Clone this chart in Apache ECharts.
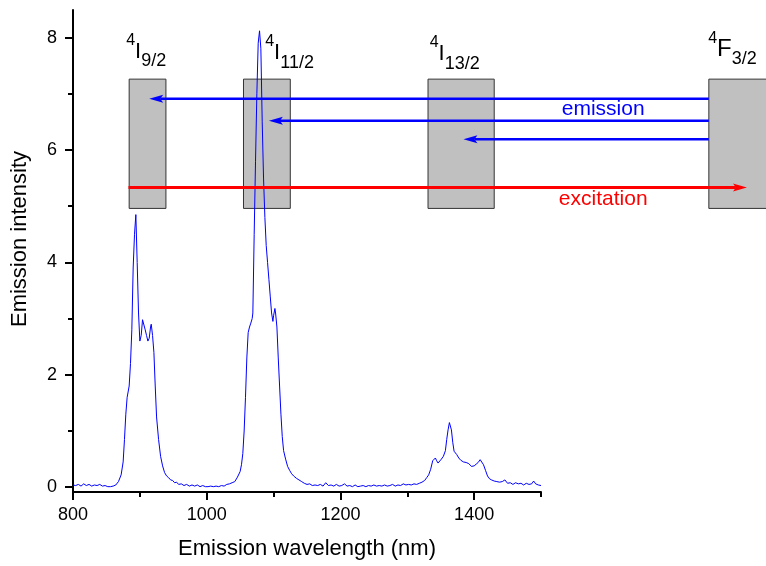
<!DOCTYPE html>
<html><head><meta charset="utf-8">
<script src="https://cdn.jsdelivr.net/npm/echarts@6/dist/echarts.min.js"></script>
<style>html,body{margin:0;padding:0;background:#fff}#c{width:766px;height:566px}</style>
</head><body><div id="c"></div>
<script>
// ---- data ----
const wavelength = [800,804,808,812,816,820,824,828,832,836,840,844,848,852,856,860,864,868,872,875,877,879,881,884,886,888,890,892,894,896,898,900,902,904,906,908,910,912,914,916,917,919,921,923,925,928,931,934,937,940,943,946,949,952,955,958,962,966,970,974,978,982,986,990,994,998,1002,1006,1010,1014,1018,1022,1026,1030,1034,1038,1042,1046,1050,1052,1054,1056,1058,1060,1062,1064,1066,1068,1069,1071,1073,1075,1077,1079,1081,1083,1085,1087,1089,1091,1093,1095,1097,1099,1100,1102,1103,1105,1107,1109,1111,1113,1115,1118,1121,1124,1127,1130,1134,1138,1142,1146,1150,1154,1158,1162,1166,1170,1174,1178,1182,1186,1190,1194,1198,1202,1206,1210,1214,1218,1222,1226,1230,1234,1238,1242,1246,1250,1254,1258,1262,1266,1270,1274,1278,1282,1286,1290,1294,1298,1302,1306,1310,1314,1318,1322,1326,1329,1332,1335,1338,1340,1342,1344,1346,1348,1351,1354,1357,1359,1361,1363,1364,1366,1368,1370,1372,1374,1377,1380,1384,1388,1392,1396,1400,1403,1406,1409,1411,1414,1417,1420,1423,1426,1430,1434,1438,1442,1446,1450,1454,1458,1462,1466,1470,1474,1478,1482,1486,1489,1492,1496,1500];
const intensity = [0.04,0.03,0.05,0.02,0.06,0.03,0.05,0.02,0.04,0.03,0.05,0.02,0.03,0.01,0.01,0.02,0.04,0.1,0.22,0.45,0.85,1.3,1.6,1.8,2.2,2.8,3.9,4.5,4.85,4.0,3.1,2.6,2.7,2.98,2.95,2.8,2.7,2.6,2.65,2.85,2.9,2.7,2.4,1.8,1.25,0.85,0.55,0.38,0.26,0.2,0.17,0.13,0.12,0.08,0.09,0.05,0.06,0.03,0.05,0.02,0.04,0.02,0.04,0.01,0.03,0.01,0.01,0.02,0.01,0.02,0.01,0.03,0.02,0.05,0.06,0.08,0.1,0.18,0.28,0.4,0.6,1.0,1.6,2.3,2.75,2.85,2.92,3.0,3.1,4.5,5.8,7.0,7.9,8.12,7.8,6.5,5.5,4.8,4.3,4.0,3.7,3.4,3.1,2.95,3.05,3.18,3.1,2.85,2.3,1.8,1.3,0.9,0.65,0.5,0.37,0.3,0.24,0.2,0.16,0.13,0.1,0.07,0.05,0.06,0.03,0.04,0.03,0.05,0.02,0.08,0.03,0.04,0.02,0.05,0.02,0.03,0.06,0.02,0.03,0.01,0.04,0.01,0.02,0.03,0.01,0.03,0.02,0.04,0.02,0.03,0.02,0.04,0.02,0.03,0.05,0.02,0.04,0.03,0.06,0.04,0.05,0.04,0.06,0.05,0.07,0.09,0.12,0.17,0.22,0.32,0.47,0.5,0.52,0.47,0.43,0.46,0.5,0.55,0.65,0.85,1.02,1.15,1.17,1.02,0.8,0.64,0.65,0.58,0.52,0.48,0.45,0.44,0.42,0.37,0.38,0.41,0.44,0.49,0.47,0.4,0.3,0.2,0.15,0.13,0.11,0.1,0.09,0.1,0.13,0.07,0.08,0.05,0.08,0.06,0.07,0.04,0.07,0.05,0.06,0.11,0.06,0.04,0.03];

const xMajorTicks = [800, 1000, 1200, 1400];
const xMinorTicks = [900, 1100, 1300, 1500];
const yMajorTicks = [0, 2, 4, 6, 8];
const yMinorTicks = [1, 3, 5, 7];

// energy level diagram (in axis units: nm / intensity)
const levelSup = ['4', '4', '4', '4'];
const levelMain = ['I', 'I', 'I', 'F'];
const levelSub = ['9/2', '11/2', '13/2', '3/2'];
const levelBoxStart = [884, 1055, 1331, 1751];
const levelBoxEnd = [939, 1125, 1430, 1860];
const levelBoxBottom = [4.96, 4.96, 4.96, 4.96];
const levelBoxTop = [7.26, 7.26, 7.26, 7.26];
const levelLabelX = [879.5, 1087.5, 1333.5, 1750];
const levelLabelY = [8.09, 8.07, 8.05, 8.13];

const emissionFrom = [1751, 1751, 1751];
const emissionTo = [914, 1093, 1384];
const emissionY = [6.91, 6.52, 6.19];
const excitationFrom = [883];
const excitationTo = [1808];
const excitationY = [5.33];

const noteText = ['emission', 'excitation'];
const noteX = [1593, 1593];
const noteY = [6.73, 5.13];

// ---- chart ----
const FONT = '"Liberation Sans", Arial, sans-serif';
const BLUE = '#0000ff', RED = '#ff0000';
const YMIN = -0.085, YMAX = 8.49;

const spectrum = wavelength.map((w, i) => [w, intensity[i]]);
const boxData = levelBoxStart.map((s, i) => [s, levelBoxEnd[i], levelBoxBottom[i], levelBoxTop[i]]);
const labelData = levelLabelX.map((x, i) => [x, levelLabelY[i], i]);
const arrowData = emissionFrom.map((f, i) => [f, emissionTo[i], emissionY[i], 0])
  .concat(excitationFrom.map((f, i) => [f, excitationTo[i], excitationY[i], 1]));
const noteData = noteX.map((x, i) => [x, noteY[i], i]);
const arrowColors = [BLUE, RED];
const arrowWidths = [2.5, 3];
const noteColors = [BLUE, RED];

const chart = echarts.init(document.getElementById('c'), null, {renderer: 'canvas'});

function renderBox(params, api) {
  const p0 = api.coord([api.value(0), api.value(3)]);
  const p1 = api.coord([api.value(1), api.value(2)]);
  return {type: 'rect', shape: {x: p0[0], y: p0[1], width: p1[0] - p0[0], height: p1[1] - p0[1]},
    style: {fill: '#c0c0c0', stroke: '#333333', lineWidth: 1}};
}
function renderArrow(params, api) {
  const a = api.coord([api.value(0), api.value(2)]);
  const b = api.coord([api.value(1), api.value(2)]);
  const k = api.value(3);
  const c = arrowColors[k];
  const dir = Math.sign(b[0] - a[0]);
  const L = 14, H = 4;
  const bx = b[0] - dir * L;
  return {type: 'group', children: [
    {type: 'line', shape: {x1: a[0], y1: a[1], x2: bx + dir * 3, y2: b[1]}, style: {stroke: c, lineWidth: arrowWidths[k]}},
    {type: 'polygon', shape: {points: [[b[0], b[1]], [bx, b[1] - H], [bx + dir * 3, b[1]], [bx, b[1] + H]]}, style: {fill: c}}
  ]};
}
function renderLabel(params, api) {
  const p = api.coord([api.value(0), api.value(1)]);
  const i = api.value(2);
  const big = levelMain[i] === 'F';
  return {type: 'text', x: p[0], y: p[1], style: {
    text: '{s|' + levelSup[i] + '}{m|' + levelMain[i] + '}{b|' + levelSub[i] + '}',
    align: 'left', verticalAlign: 'top', fill: '#000',
    rich: {
      s: {fontSize: 16, fontFamily: FONT, lineHeight: 21, verticalAlign: 'top', fill: '#000'},
      m: {fontSize: big ? 24 : 22, fontFamily: FONT, lineHeight: 38, verticalAlign: 'middle', fill: '#000'},
      b: {fontSize: 18, fontFamily: FONT, lineHeight: 15, verticalAlign: 'bottom', fill: '#000'}
    }
  }};
}
function renderNote(params, api) {
  const p = api.coord([api.value(0), api.value(1)]);
  const i = api.value(2);
  return {type: 'text', x: p[0], y: p[1], style: {text: noteText[i], fill: noteColors[i],
    fontSize: 21, fontFamily: FONT, align: 'center', verticalAlign: 'middle'}};
}

const plain = v => String(v);
const axisLineStyle = {color: '#000', width: 2};
chart.setOption({
  animation: false,
  backgroundColor: '#fff',
  grid: [
    {left: 73, right: 225, top: 10, bottom: 74},
    {left: 73, right: 0, top: 10, bottom: 74}
  ],
  xAxis: [
    {type: 'value', gridIndex: 0, position: 'bottom', min: 800, max: 1500,
      axisLine: {onZero: false, lineStyle: axisLineStyle},
      axisTick: {customValues: xMajorTicks, length: 8, lineStyle: {color: '#000', width: 2}},
      axisLabel: {customValues: xMajorTicks, formatter: plain, fontSize: 18, fontFamily: FONT, color: '#000', margin: 14},
      splitLine: {show: false},
      name: 'Emission wavelength (nm)', nameLocation: 'middle', nameGap: 46,
      nameTextStyle: {fontSize: 22, fontFamily: FONT, color: '#000'}},
    {type: 'value', gridIndex: 0, position: 'bottom', min: 800, max: 1500,
      axisLine: {show: false, onZero: false},
      axisTick: {customValues: xMinorTicks, length: 5, lineStyle: {color: '#000', width: 2}},
      axisLabel: {show: false}, splitLine: {show: false}},
    {type: 'value', gridIndex: 1, min: 800, max: 1836.5, show: false}
  ],
  yAxis: [
    {type: 'value', gridIndex: 0, position: 'left', min: YMIN, max: YMAX,
      axisLine: {show: true, onZero: false, lineStyle: axisLineStyle},
      axisTick: {show: true, customValues: yMajorTicks, length: 8, lineStyle: {color: '#000', width: 2}},
      axisLabel: {customValues: yMajorTicks, formatter: plain, fontSize: 18, fontFamily: FONT, color: '#000', margin: 16},
      splitLine: {show: false},
      name: 'Emission intensity', nameLocation: 'middle', nameGap: 42,
      nameTextStyle: {fontSize: 22, fontFamily: FONT, color: '#000', padding: [0, 0, 0, 24]}},
    {type: 'value', gridIndex: 0, position: 'left', min: YMIN, max: YMAX,
      axisLine: {show: false, onZero: false},
      axisTick: {show: true, customValues: yMinorTicks, length: 5, lineStyle: {color: '#000', width: 2}},
      axisLabel: {show: false}, splitLine: {show: false}},
    {type: 'value', gridIndex: 1, min: YMIN, max: YMAX, show: false}
  ],
  series: [
    {type: 'custom', xAxisIndex: 2, yAxisIndex: 2, renderItem: renderBox, data: boxData,
      encode: {x: [0, 1], y: [2, 3]}, z: 1, silent: true},
    {type: 'line', xAxisIndex: 0, yAxisIndex: 0, data: spectrum, showSymbol: false, symbol: 'none',
      lineStyle: {color: BLUE, width: 1}, z: 2, silent: true},
    {type: 'custom', xAxisIndex: 2, yAxisIndex: 2, renderItem: renderArrow, data: arrowData,
      encode: {x: [0, 1], y: 2}, z: 3, silent: true},
    {type: 'custom', xAxisIndex: 2, yAxisIndex: 2, renderItem: renderLabel, data: labelData,
      encode: {x: 0, y: 1}, z: 4, silent: true},
    {type: 'custom', xAxisIndex: 2, yAxisIndex: 2, renderItem: renderNote, data: noteData,
      encode: {x: 0, y: 1}, z: 4, silent: true}
  ]
});
</script></body></html>
